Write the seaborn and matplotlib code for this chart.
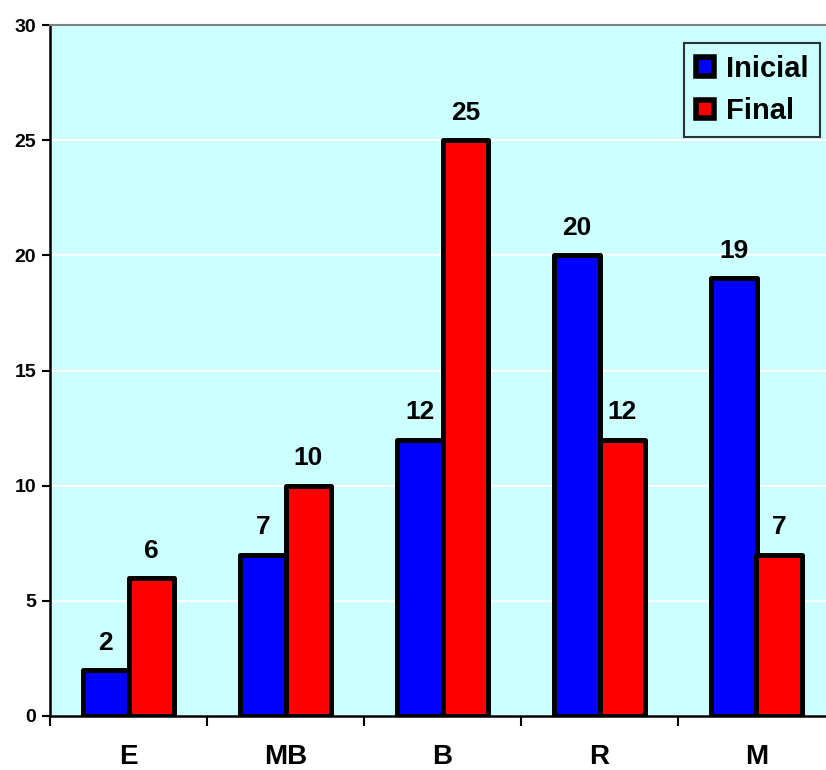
import matplotlib
matplotlib.use("Agg")
import matplotlib.pyplot as plt
import matplotlib.patches as mpatches
from matplotlib.ticker import FixedLocator, MultipleLocator
import seaborn as sns
import pandas as pd

categories = ["E", "MB", "B", "R", "M"]
inicial = [2, 7, 12, 20, 19]
final = [6, 10, 25, 12, 7]
series_names = ["Inicial", "Final"]
colors = ["#0000FF", "#FF0000"]

df = pd.DataFrame({
    "cat": categories * 2,
    "valor": inicial + final,
    "serie": [series_names[0]] * len(categories) + [series_names[1]] * len(categories),
})

sns.set_theme(style="white")
plt.rcParams["font.family"] = ["Liberation Sans", "DejaVu Sans"]
plt.rcParams["font.weight"] = "bold"
plt.rcParams["text.color"] = "black"
plt.rcParams["xtick.color"] = "black"
plt.rcParams["ytick.color"] = "black"
plt.rcParams["xtick.labelcolor"] = "black"
plt.rcParams["ytick.labelcolor"] = "black"

fig = plt.figure(figsize=(8.26, 7.70), dpi=100)
ax = fig.add_axes([50 / 826, 54 / 770, 785 / 826, 691 / 770])
ax.set_facecolor("#CCFFFF")

sns.barplot(data=df, x="cat", y="valor", hue="serie", order=categories,
            hue_order=series_names, palette=colors, width=0.58,
            edgecolor="black", linewidth=3.6, saturation=1, ax=ax, legend=False,
            zorder=3)
for p in ax.patches:
    p.set_joinstyle("round")

for cont in ax.containers:
    ax.bar_label(cont, fmt="%d", padding=11, fontsize=19, fontweight="bold",
                 color="black")

ax.set_ylim(0, 30)
ax.set_xlim(-0.5, 4.5)
ax.yaxis.set_major_locator(MultipleLocator(5))
ax.yaxis.grid(True, color="white", linewidth=1.5, zorder=0)
ax.set_axisbelow(True)

ax.set_xlabel("")
ax.set_ylabel("")
ax.tick_params(axis="x", which="major", length=0, pad=20, labelsize=20,
               labelcolor="black")
ax.xaxis.set_minor_locator(FixedLocator([-0.5, 0.5, 1.5, 2.5, 3.5, 4.5]))
ax.tick_params(axis="x", which="minor", bottom=True, length=7, width=1.5,
               color="black", direction="out")
ax.tick_params(axis="y", left=True, length=6, width=1.5, color="black",
               direction="out", labelsize=14, pad=4, labelcolor="black")
for lab in ax.get_xticklabels() + ax.get_yticklabels():
    lab.set_fontweight("bold")

for side in ["left", "bottom"]:
    ax.spines[side].set_color("black")
    ax.spines[side].set_linewidth(1.8)
ax.spines["top"].set_color("#808080")
ax.spines["top"].set_linewidth(1.5)
ax.spines["right"].set_visible(False)

handles = [mpatches.Patch(facecolor=c, edgecolor="black", linewidth=4,
                          joinstyle="round", label=n)
           for c, n in zip(colors, series_names)]
leg = fig.legend(handles=handles, loc="upper right",
                 bbox_to_anchor=(820 / 826, 1 - 43 / 770),
                 bbox_transform=fig.transFigure, fontsize=21, frameon=True,
                 fancybox=False, edgecolor="black", facecolor="#CCFFFF",
                 handlelength=0.62, handleheight=0.62, handletextpad=0.4,
                 labelspacing=0.5, borderpad=0.4, borderaxespad=0)
leg.get_frame().set_linewidth(1.5)
for t in leg.get_texts():
    t.set_fontweight("bold")
    t.set_color("black")

fig.savefig("out.png", dpi=100)
